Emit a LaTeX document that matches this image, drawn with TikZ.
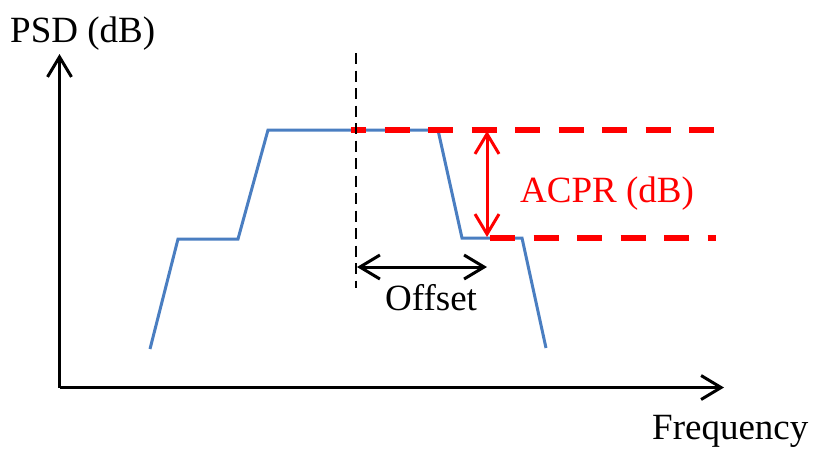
\documentclass[tikz,border=0pt]{standalone}
\usepackage{fontspec}
\setmainfont{Liberation Serif}
\usetikzlibrary{arrows.meta}
\definecolor{curveblue}{RGB}{74,126,193}
\begin{document}
\begin{tikzpicture}[x=1pt,y=-1pt,
  lbl/.style={font=\fontsize{37}{40}\selectfont, inner sep=0pt, anchor=base west},
  axisline/.style={line width=3pt, -{Straight Barb[length=20pt,width=24pt]}},
  reddash/.style={draw=red, line width=6pt, dash pattern=on 25pt off 18.5pt},
  spec/.style={draw=curveblue, line width=3pt, line join=miter}]
\useasboundingbox (0,0) rectangle (813,448);
% axes
\coordinate (O) at (59.5,387.5);
\coordinate (ytip) at (59.5,54);
\coordinate (xtip) at (724,387.5);
\draw[axisline] (O) -- (ytip);
\draw[axisline] (O) -- (xtip);
% spectrum
\coordinate (s1) at (150,349);
\coordinate (s2) at (178,239);
\coordinate (s3) at (238,239);
\coordinate (s4) at (268,130);
\coordinate (s5) at (438,130);
\coordinate (s6) at (462,238);
\coordinate (s7) at (522,238);
\coordinate (s8) at (546,348);
\draw[spec] (s1) -- (s2) -- (s3) -- (s4) -- (s5) -- (s6) -- (s7) -- (s8);
% red dashed levels
\coordinate (ta) at (351,130);
\coordinate (tb) at (716,130);
\coordinate (ba) at (490,238);
\coordinate (bb) at (716,238);
\draw[reddash, dash phase=10pt] (ta) -- (tb);
\draw[reddash] (ba) -- (bb);
% black dashed marker
\coordinate (da) at (356,53);
\coordinate (db) at (356,288);
\draw[line width=2.5pt, dash pattern=on 11pt off 6.5pt] (da) -- (db);
% ACPR arrow
\coordinate (ra) at (487,131);
\coordinate (rb) at (487,237);
\draw[red, line width=3pt, {Straight Barb[length=20pt,width=24pt]}-{Straight Barb[length=20pt,width=24pt]}] (ra) -- (rb);
% Offset arrow
\coordinate (oa) at (357,267);
\coordinate (ob) at (487,267);
\draw[line width=3pt, {Straight Barb[length=20pt,width=24pt]}-{Straight Barb[length=20pt,width=24pt]}] (oa) -- (ob);
% labels
\node[lbl] (psd) at (10,42) {PSD (dB)};
\node[lbl] (freq) at (652,439) {Frequency};
\node[lbl] (off) at (385,310) {Offset};
\node[lbl, text=red] (acpr) at (520,202) {ACPR (dB)};
\end{tikzpicture}
\end{document}
